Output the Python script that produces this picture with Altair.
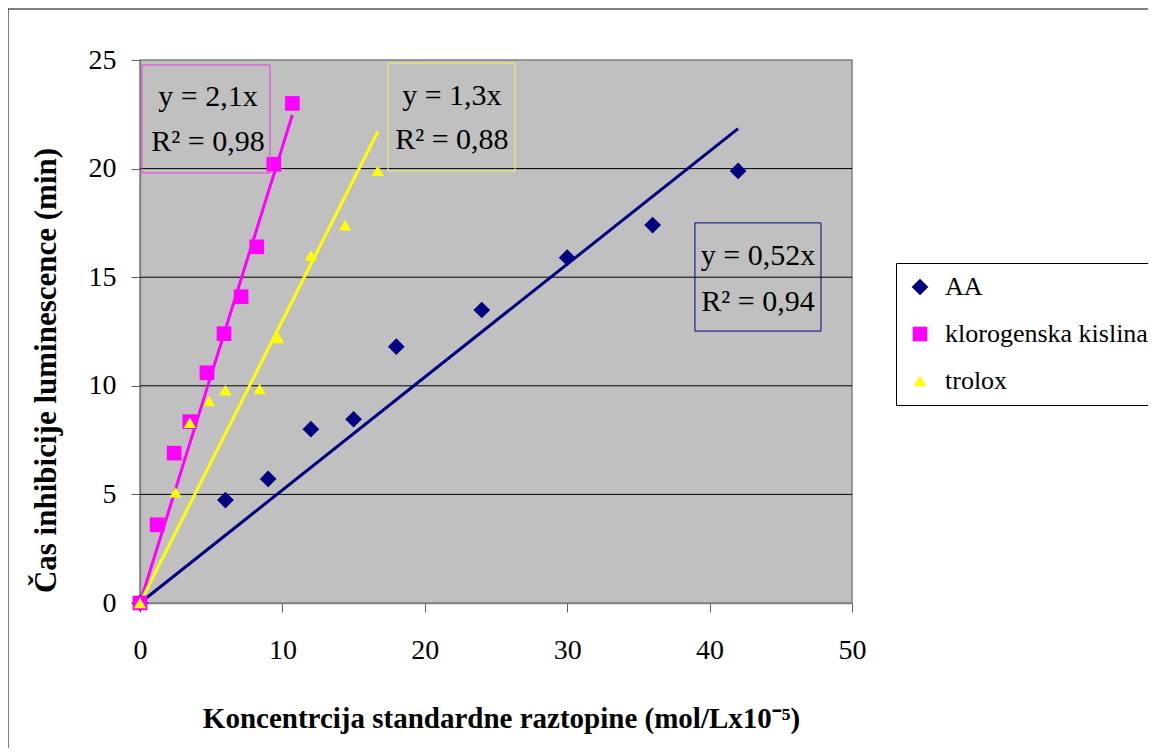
import altair as alt
import pandas as pd

# ---- data ----
series_names = ["AA", "klorogenska kislina", "trolox"]
series_colors = ["#000080", "#FF00FF", "#FFFF00"]
series_shapes = ["diamond", "square", "triangle-up"]

aa_x = [0, 6, 9, 12, 15, 18, 24, 30, 36, 42]
aa_y = [0, 4.74, 5.71, 8.0, 8.46, 11.8, 13.49, 15.9, 17.4, 19.89]

kl_x = [0, 1.2, 2.4, 3.5, 4.7, 5.9, 7.1, 8.2, 9.4, 10.7]
kl_y = [0, 3.6, 6.9, 8.35, 10.6, 12.4, 14.1, 16.4, 20.2, 23.0]

tr_x = [0, 2.5, 3.5, 4.85, 6.0, 8.4, 9.7, 12.0, 14.4, 16.7]
tr_y = [0, 5.1, 8.3, 9.3, 9.8, 9.85, 12.2, 16.0, 17.4, 19.9]

slopes = [0.52, 2.1, 1.3]
r2_values = ["0,94", "0,98", "0,88"]
slope_labels = ["0,52", "2,1", "1,3"]

x_ticks = [0, 10, 20, 30, 40, 50]
y_ticks = [0, 5, 10, 15, 20, 25]
grid_values = [5, 10, 15, 20]

# annotation boxes (data coordinates): x1, x2, y_top, y_bottom
box_x1 = [38.97, 0.14, 17.42]
box_x2 = [47.82, 9.13, 26.33]
box_y1 = [17.50, 24.77, 24.86]
box_y2 = [12.52, 19.80, 19.89]
box_stroke = ["#000080", "#E040E0", "#F0F060"]
label_x = [43.4, 4.78, 21.9]
label_y1 = [15.98, 23.30, 23.34]
label_y2 = [13.86, 21.22, 21.32]

FONT = "Liberation Serif"

# ---- tables ----
pts = pd.concat([
    pd.DataFrame({"x": aa_x, "y": aa_y, "s": series_names[0]}),
    pd.DataFrame({"x": kl_x, "y": kl_y, "s": series_names[1]}),
    pd.DataFrame({"x": tr_x, "y": tr_y, "s": series_names[2]}),
], ignore_index=True)

xs_all = [aa_x, kl_x, tr_x]
trend_rows = []
for name, xs, m in zip(series_names, xs_all, slopes):
    xm = max(xs)
    trend_rows.append({"x": 0, "y": 0, "s": name})
    trend_rows.append({"x": xm, "y": m * xm, "s": name})
trend = pd.DataFrame(trend_rows)

boxes = pd.DataFrame({"x1": box_x1, "x2": box_x2, "y1": box_y1, "y2": box_y2,
                      "c": box_stroke})
labels = pd.DataFrame({
    "x": label_x * 2,
    "y": label_y1 + label_y2,
    "t": [f"y = {s}x" for s in slope_labels] + [f"R\u00b2 = {r}" for r in r2_values],
})
grid = pd.DataFrame({"y": grid_values})

xscale = alt.Scale(domain=[0, 50], nice=False, zero=True)
yscale = alt.Scale(domain=[0, 25], nice=False, zero=True)
cscale = alt.Scale(domain=series_names, range=series_colors)
sscale = alt.Scale(domain=series_names, range=series_shapes)
sizescale = alt.Scale(domain=series_names, range=[280, 150, 380])

x_axis = alt.Axis(values=x_ticks, grid=False, tickSize=9, tickColor="#606060",
                  domainColor="#808080", domainWidth=1.5,
                  labelFont=FONT, labelFontSize=28, labelColor="black",
                  labelBaseline="middle", labelPadding=38, labelFlush=False,
                  title="Koncentrcija standardne raztopine (mol/Lx10\u207b\u2075)",
                  titleFont=FONT, titleFontSize=29, titleFontWeight="bold",
                  titleColor="black", titleX=361, titleY=115,
                  titleBaseline="middle", titleAlign="center", titleAnchor="middle")
y_axis = alt.Axis(values=y_ticks, grid=False, tickSize=9, tickColor="#606060",
                  domainColor="#808080", domainWidth=1.5,
                  labelFont=FONT, labelFontSize=28, labelColor="black",
                  labelPadding=15, labelFlush=False,
                  title="\u010cas inhibicije luminescence (min)",
                  titleFont=FONT, titleFontSize=31, titleFontWeight="bold",
                  titleColor="black", titleX=-94, titleY=310, titleAngle=270,
                  titleBaseline="middle", titleAlign="center")

outer = alt.Chart(pd.DataFrame({"a": [0]})).mark_rect(
    fill=None, stroke="black", strokeWidth=1
).encode(x=alt.value(-132), x2=alt.value(1300), y=alt.value(-51), y2=alt.value(1000))

gridlines = alt.Chart(grid).mark_rule(color="black", strokeWidth=1).encode(
    y=alt.Y("y:Q", scale=yscale, axis=y_axis)
)

lines = alt.Chart(trend).mark_line(strokeWidth=3).encode(
    x=alt.X("x:Q", scale=xscale, axis=x_axis),
    y=alt.Y("y:Q", scale=yscale, axis=y_axis),
    stroke=alt.Stroke("s:N", scale=cscale, legend=None),
    detail="s:N",
)

legend = alt.Legend(title=None, orient="none", legendX=756, legendY=203,
                    fillColor="white", strokeColor="black", padding=11,
                    labelFont=FONT, labelFontSize=26, labelColor="black",
                    symbolSize=80, rowPadding=21, labelOffset=12, labelLimit=500,
                    symbolStrokeWidth=0)

points = alt.Chart(pts).mark_point(filled=True, opacity=1, strokeWidth=0).encode(
    x=alt.X("x:Q", scale=xscale, axis=x_axis),
    y=alt.Y("y:Q", scale=yscale, axis=y_axis),
    color=alt.Color("s:N", scale=cscale, legend=legend),
    shape=alt.Shape("s:N", scale=sscale, legend=legend),
    size=alt.Size("s:N", scale=sizescale, legend=None),
    order=alt.Order("s:N"),
)

box_marks = alt.Chart(boxes).mark_rect(fill=None, strokeWidth=1).encode(
    x=alt.X("x1:Q", scale=xscale), x2="x2:Q",
    y=alt.Y("y1:Q", scale=yscale), y2="y2:Q",
    stroke=alt.Stroke("c:N", scale=None),
)

text_marks = alt.Chart(labels).mark_text(font=FONT, fontSize=30, color="black",
                                          align="center", baseline="middle").encode(
    x=alt.X("x:Q", scale=xscale),
    y=alt.Y("y:Q", scale=yscale),
    text="t:N",
)

chart = alt.layer(outer, gridlines, lines, points, box_marks, text_marks).resolve_scale(
    stroke="independent"
).properties(
    width=712, height=543,
    autosize=alt.AutoSizeParams(type="none"),
    padding={"left": 132, "top": 52, "right": 296, "bottom": 145},
    background="white",
).configure_view(fill="#C0C0C0", stroke="#808080", strokeWidth=1.5)

chart.save("out.html", embed_options={"renderer": "svg", "actions": False})
